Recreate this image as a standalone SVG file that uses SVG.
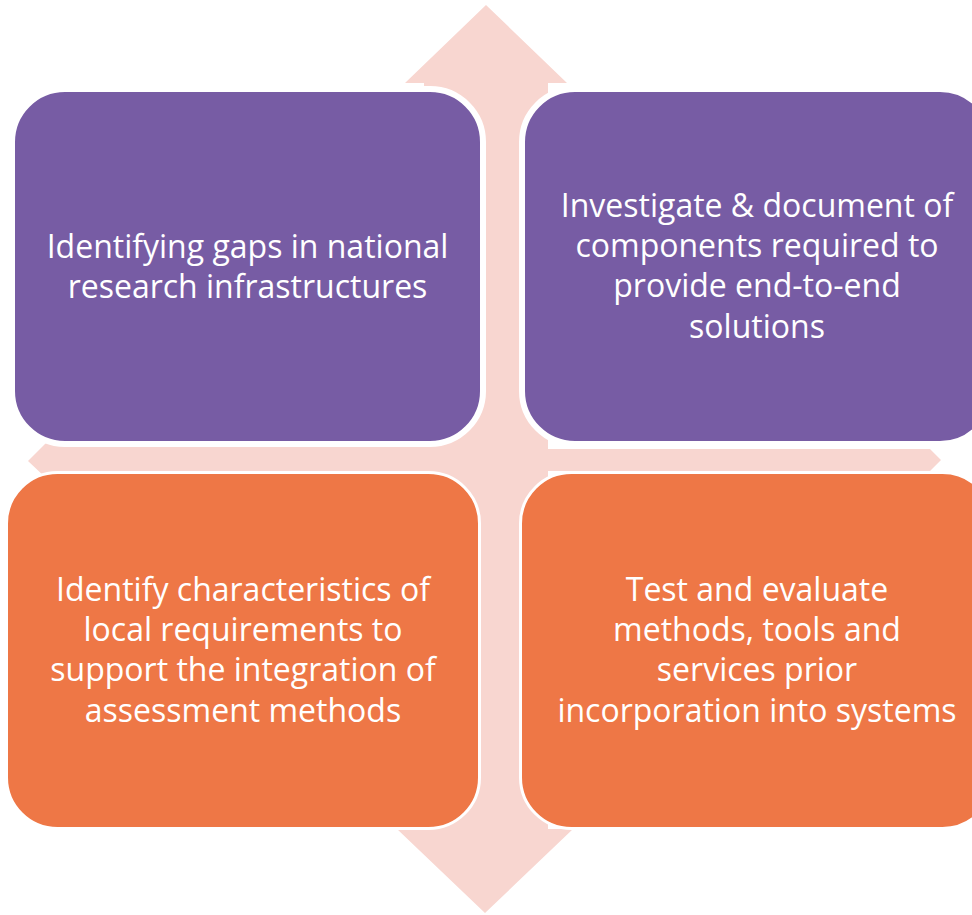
<svg xmlns="http://www.w3.org/2000/svg" width="972" height="915" viewBox="0 0 972 915">
  <style>
    .purple { fill: #775CA4; stroke: #FFFFFF; stroke-width: 6; }
    .orange { fill: #EE7746; stroke: #FFFFFF; stroke-width: 3; }
    .label { fill: #FFFFFF; font-family: "Open Sans", "Liberation Sans", sans-serif; font-size: 32px; text-anchor: middle; }
  </style>
  <rect width="972" height="915" fill="#FFFFFF"/>
  <g id="connectors">
    <polygon id="cross-arrow" fill="#F8D6D0" points="486,5 567,83 548,83 548,449 930,449 941,460 930,471 548,471 548,829 573,829 485,913 397,829 424,829 424,478 46,478 28,461 46,443 424,443 424,83 405,83"/>
  </g>
  <g id="node-gaps">
    <rect class="purple" x="12" y="89" width="471" height="355" rx="53" ry="53"/>
    <text class="label"><tspan x="247.5" y="258">Identifying gaps in national</tspan><tspan x="247.5" y="298">research infrastructures</tspan></text>
  </g>
  <g id="node-investigate">
    <rect class="purple" x="522" y="89" width="471" height="355" rx="53" ry="53"/>
    <text class="label"><tspan x="757" y="217">Investigate &amp; document of</tspan><tspan x="757" y="257">components required to</tspan><tspan x="757" y="297">provide end-to-end</tspan><tspan x="757" y="338">solutions</tspan></text>
  </g>
  <g id="node-identify">
    <rect class="orange" x="6.5" y="472.5" width="473" height="356" rx="51" ry="51"/>
    <text class="label"><tspan x="243" y="601">Identify characteristics of</tspan><tspan x="243" y="641">local requirements to</tspan><tspan x="243" y="681">support the integration of</tspan><tspan x="243" y="722">assessment methods</tspan></text>
  </g>
  <g id="node-test">
    <rect class="orange" x="520.5" y="472.5" width="473" height="356" rx="51" ry="51"/>
    <text class="label"><tspan x="757" y="601">Test and evaluate</tspan><tspan x="757" y="641">methods, tools and</tspan><tspan x="757" y="681">services prior</tspan><tspan x="757" y="722">incorporation into systems</tspan></text>
  </g>
</svg>
